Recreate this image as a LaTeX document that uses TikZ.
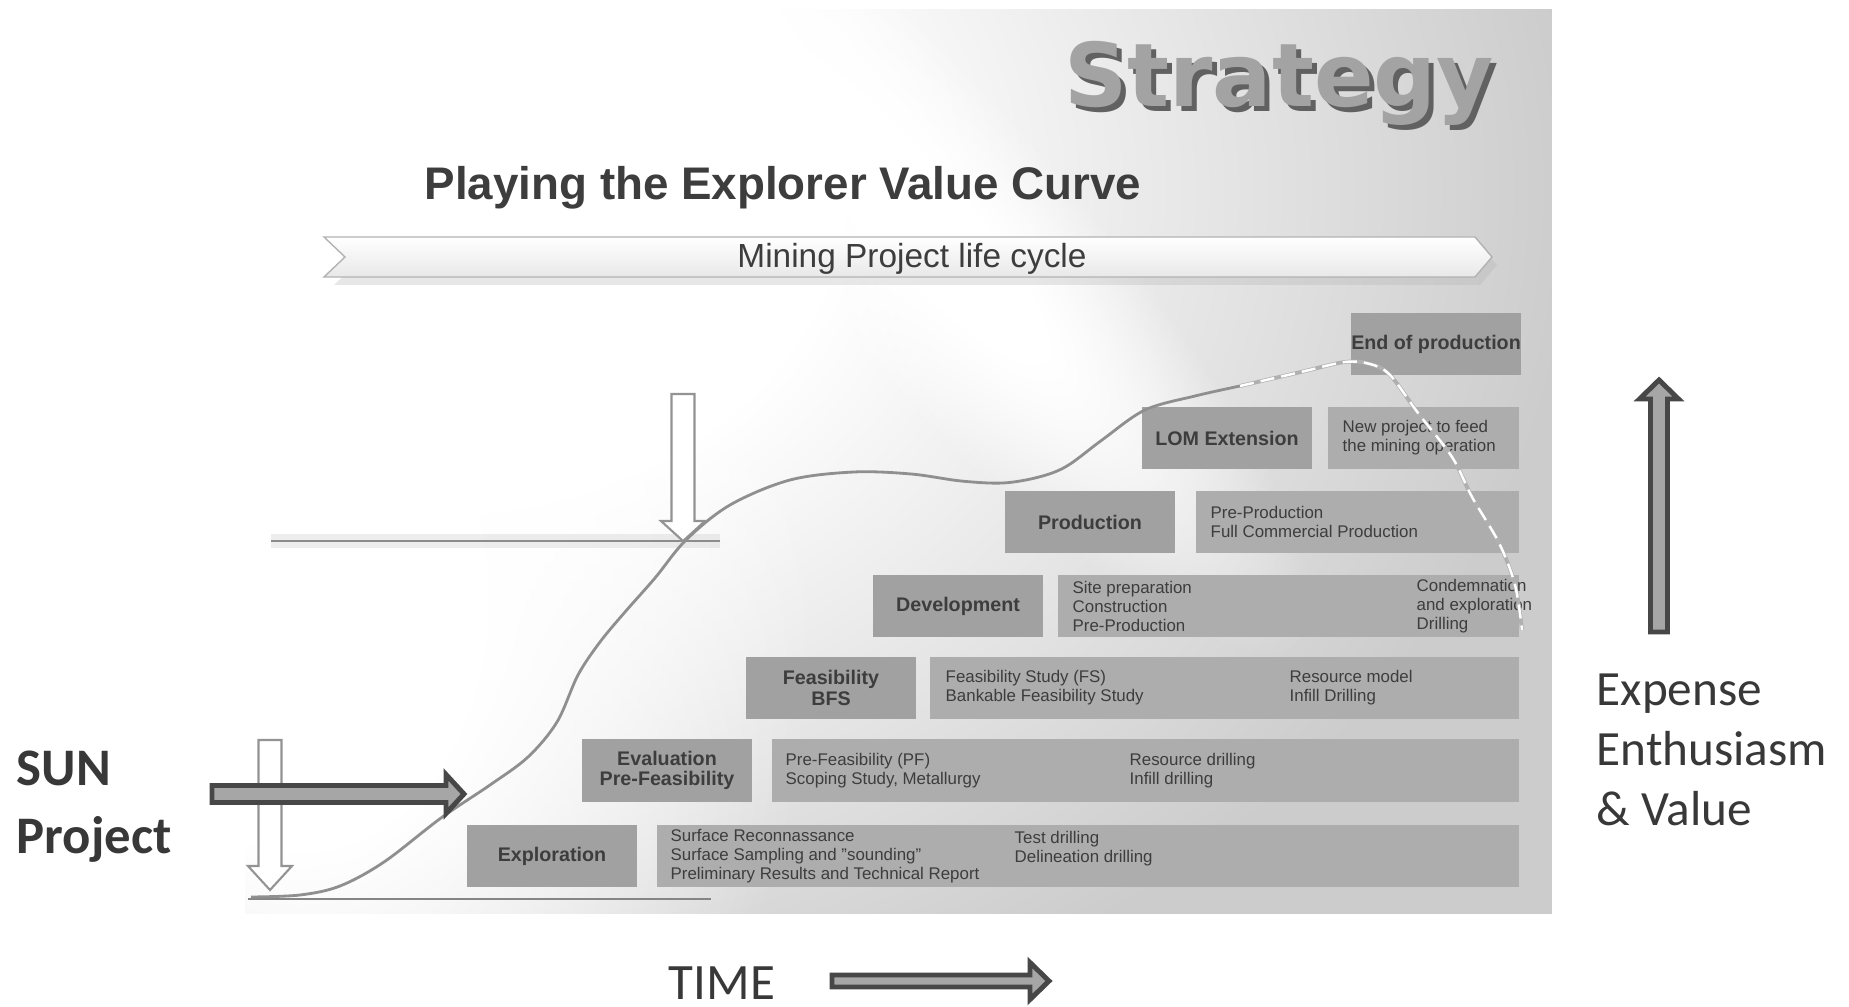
\documentclass[tikz,border=0pt]{standalone}
\usepackage{fontspec}
\setmainfont{Liberation Sans}
\newfontfamily\calibri{Carlito}
\newfontfamily\verdana{DejaVu Sans}
\usetikzlibrary{fadings}

\definecolor{panel}{gray}{0.8}
\definecolor{labbox}{gray}{0.63}
\definecolor{txtbox}{gray}{0.68}
\definecolor{ink}{gray}{0.24}
\definecolor{curve}{gray}{0.56}

\pgfdeclareradialshading{glowmask}{\pgfpointorigin}{color(0bp)=(white); color(9bp)=(white); color(25bp)=(black); color(50bp)=(black)}
\pgfdeclarefading{glow}{\pgfuseshading{glowmask}}

\begin{document}
\begin{tikzpicture}[x=0.01cm, y=-0.01cm,
    stage/.style={fill=labbox, text=ink, align=center, inner sep=0pt,
      minimum width=1.70cm, minimum height=0.62cm,
      font=\bfseries\fontsize{5.6}{5.9}\selectfont},
    task/.style={fill=txtbox, inner sep=0pt, minimum height=0.62cm},
    info/.style={anchor=west, align=left, text=ink, inner sep=0pt,
      font=\fontsize{4.8}{5.4}\selectfont},
    hollow/.style={fill=white, draw=gray!85, line width=0.6pt},
    fat/.style={fill=gray!70, draw=black!72, line width=1.4pt},
    side/.style={text=black!78, align=left, inner sep=0pt}]
      \useasboundingbox (0,0) rectangle (1849,1007);

      % Slide
      \fill[panel] (245,9) rectangle (1552,914);
      \begin{scope}
        \clip (245,9) rectangle (1552,914);
        \fill[white, path fading=glow] (430,190) ellipse (1150 and 900);
        \fill[white, path fading=glow] (300,600) ellipse (520 and 700);
        \begin{scope}[transform canvas={rotate around={-48:(900,200)}}]
          \fill[white, path fading=glow] (900,200) ellipse (600 and 140);
        \end{scope}
      \end{scope}

      % Headings
      \node[anchor=base, text=black!62, font=\verdana\bfseries\fontsize{25}{28}\selectfont]
        (strshadow) at (1284,112) {Strategy};
      \node[anchor=base, text=black!36, font=\verdana\bfseries\fontsize{25}{28}\selectfont]
        (strategy) at (1279,107) {Strategy};
      \node[anchor=base, text=ink, font=\bfseries\fontsize{13}{15}\selectfont]
        (title) at (783,200) {Playing the Explorer Value Curve};

      \fill[gray!60, opacity=0.3] (334,245) -- (1480,245) -- (1497,265) -- (1480,285)
        -- (334,285) -- (355,265) -- cycle;
      \shadedraw[top color=white, bottom color=gray!18, draw=gray!60]
        (324,237) -- (1475,237) -- (1492,257) -- (1475,277) -- (324,277) -- (345,257) -- cycle;
      \node[anchor=base, text=ink, font=\fontsize{9.5}{11}\selectfont]
        (cycle) at (912,268) {Mining Project life cycle};

      % Lines
      \coordinate (upL) at (271,541);
      \coordinate (upR) at (720,541);
      \coordinate (baseL) at (248,899);
      \coordinate (baseR) at (711,899);
      \draw[gray!40, line width=4pt, opacity=0.35, yshift=-3pt] (upL) -- (upR);
      \draw[gray!90, line width=0.7pt] (upL) -- (upR);
      \draw[black!48, line width=0.7pt] (baseL) -- (baseR);

      % Hollow arrows
      \draw[hollow] (671.5,394) -- (694.5,394) -- (694.5,521) -- (705,521) -- (683,541)
        -- (661,521) -- (671.5,521) -- cycle;
      \draw[hollow] (258.5,740) -- (281.5,740) -- (281.5,866) -- (292,866) -- (270,890)
        -- (248,866) -- (258.5,866) -- cycle;

      % Stages
      \node[stage] (expl) at (552,856) {Exploration};
      \node[task, minimum width=8.62cm] (surf) at (1088,856) {};
      \node[stage] (eval) at (667,770.5) {Evaluation\\Pre-Feasibility};
      \node[task, minimum width=7.47cm] (pf) at (1145.5,770.5) {};
      \node[stage] (feas) at (831,688) {Feasibility\\BFS};
      \node[task, minimum width=5.89cm] (fs) at (1224.5,688) {};
      \node[stage] (dev) at (958,606) {Development};
      \node[task, minimum width=4.61cm] (site) at (1288.5,606) {};
      \node[stage] (prod) at (1090,522) {Production};
      \node[task, minimum width=3.23cm] (preprod) at (1357.5,522) {};
      \node[stage] (lom) at (1227,438) {LOM Extension};
      \node[task, minimum width=1.91cm] (newp) at (1423.5,438) {};
      \node[stage] (endp) at (1436,344) {End of production};

      % Details
      \node[info] (surfA) at (670,856) {Surface Reconnassance\\Surface Sampling and "sounding"\\Preliminary Results and Technical Report};
      \node[info] (surfB) at (1014,849) {Test drilling\\Delineation drilling};
      \node[info] (pfA) at (785,771) {Pre-Feasibility (PF)\\Scoping Study, Metallurgy};
      \node[info] (pfB) at (1129,771) {Resource drilling\\Infill drilling};
      \node[info] (fsA) at (945,688) {Feasibility Study (FS)\\Bankable Feasibility Study};
      \node[info] (fsB) at (1289,688) {Resource model\\Infill Drilling};
      \node[info] (siteA) at (1072,606) {Site preparation\\Construction\\Pre-Production};
      \node[info] (siteB) at (1416,606) {Condemnation\\and exploration\\Drilling};
      \node[info] (preprodA) at (1210,522) {Pre-Production\\Full Commercial Production};
      \node[info] (newpA) at (1342,438) {New project to feed\\the mining operation};

      % Value curve
      \draw[curve, line width=0.8pt] plot[smooth, tension=0.55] coordinates {
        (251,897) (300,895) (340,886) (384,862) (441,818) (490,785) (528,757)
        (557,722) (578,675) (600,642) (625,612) (655,578) (686,540) (730,505)
        (790,480) (854,472) (911,474) (961,481) (1003,483) (1039,477) (1067,466)
        (1102,440) (1145,410) (1195,396) (1240,386)};
      \draw[curve!70, line width=1.1pt] plot[smooth, tension=0.55] coordinates {
        (1240,386) (1301,372) (1345,362) (1370,364) (1390,375) (1418,413) (1452,457)
        (1472,497) (1499,543) (1515,585) (1522,630)};
      \draw[white, line width=0.7pt, dash pattern=on 4pt off 2pt] plot[smooth, tension=0.55] coordinates {
        (1240,386) (1301,372) (1345,362) (1370,364) (1390,375) (1418,413) (1452,457)
        (1472,497) (1499,543) (1515,585) (1522,630)};

      % Thick arrows
      \draw[fat] (212,785.5) -- (446,785.5) -- (446,774.5) -- (464,794) -- (446,813.5)
        -- (446,802.5) -- (212,802.5) -- cycle;
      \draw[fat] (1650.5,632) -- (1650.5,399) -- (1639.5,399) -- (1659,380) -- (1678.5,399)
        -- (1667.5,399) -- (1667.5,632) -- cycle;
      \draw[fat] (832,975) -- (1030,975) -- (1030,962.5) -- (1049,981) -- (1030,999.5)
        -- (1030,987) -- (832,987) -- cycle;

      % Labels
      \node[side, anchor=west, font=\calibri\bfseries\fontsize{15}{19.3}\selectfont]
        (sun) at (16,807) {SUN\\Project};
      \node[side, anchor=west, font=\calibri\fontsize{14}{17}\selectfont]
        (expense) at (1596,750) {Expense\\Enthusiasm\\\& Value};
      \node[side, font=\calibri\fontsize{14.5}{17}\selectfont] (time) at (722,983) {TIME};
\end{tikzpicture}
\end{document}
